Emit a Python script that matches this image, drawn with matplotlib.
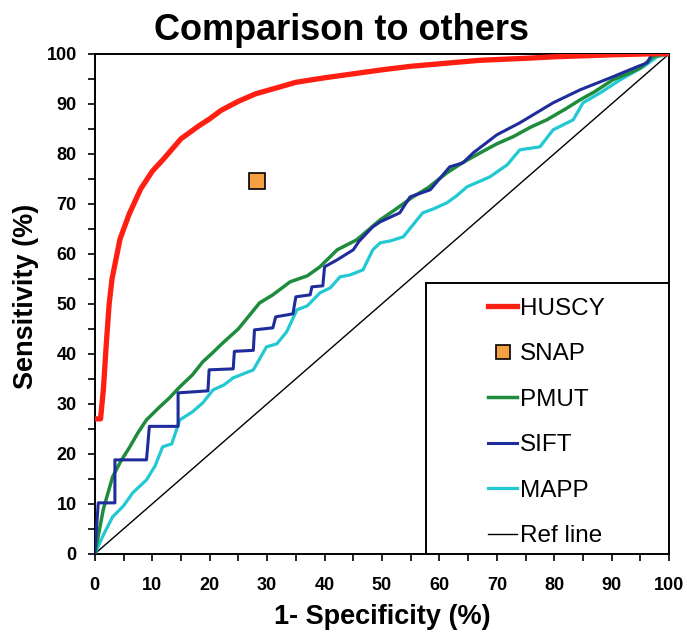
import matplotlib
matplotlib.use("Agg")
import matplotlib.pyplot as plt
from matplotlib.ticker import MultipleLocator
from matplotlib.patches import Rectangle

plt.rcParams['font.family'] = ['Liberation Sans', 'DejaVu Sans']

# HUSCY ROC curve
huscy_x = [0, 1, 1.5, 2, 2.5, 3, 4.4, 6, 8, 10, 12, 15, 18, 20, 22, 25, 28, 32, 35, 40, 45, 50, 55, 60, 67, 75, 80, 90, 97, 100]
huscy_y = [27, 27, 33, 42, 50, 55, 63, 68, 73, 76.5, 79, 83, 85.5, 87, 88.7, 90.5, 92, 93.3, 94.3, 95.2, 96, 96.8, 97.5, 98, 98.7, 99.1, 99.4, 99.8, 100, 100]

# SNAP single point
snap_x = [28.3]
snap_y = [74.5]

# PMUT
pmut_x = [0, 1.5, 3.1, 4.5, 6.1, 7.5, 9, 11.3, 13, 14.8, 17, 18.8, 20.5, 22.3, 25, 28.7, 31, 34, 37, 39.2, 42.2, 45.6, 49.7, 52, 55.4, 58, 61.3, 64, 67.1, 70, 72.8, 76, 78.7, 82, 84.5, 87, 90.2, 93.2, 95, 97.2, 99, 100]
pmut_y = [0, 9, 15.4, 18.5, 21.4, 24.2, 26.8, 29.4, 31.2, 33.4, 35.8, 38.4, 40.2, 42.2, 45, 50.2, 51.8, 54.4, 55.6, 57.4, 60.8, 62.8, 66.8, 68.6, 71.4, 73.2, 76.2, 78.2, 80.2, 82, 83.4, 85.4, 86.8, 89, 90.8, 92.4, 94.8, 96.2, 97.2, 99.4, 100, 100]

# SIFT
sift_x = [0, 0.6, 3.5, 3.5, 9, 9.5, 14.5, 14.5, 19.7, 19.9, 24.1, 24.3, 27.6, 27.8, 31, 31.5, 34.5, 35, 37.5, 37.8, 39.7, 40, 42.2, 45, 46, 48.4, 49.7, 53.1, 54.9, 58.4, 61.8, 64.1, 65.9, 70, 74, 79.8, 84.5, 90.2, 94.4, 96.2, 97, 100]
sift_y = [0, 10.2, 10.2, 18.8, 18.8, 25.5, 25.5, 32.2, 32.6, 36.8, 37, 40.5, 40.7, 44.8, 45.2, 47.4, 48, 51.4, 51.8, 53.4, 53.6, 57.4, 58.8, 60.8, 62.5, 65.4, 66.4, 68.2, 71.4, 72.8, 77.4, 78.2, 80.2, 83.8, 86.2, 90.2, 92.8, 95.4, 97.4, 98.2, 100, 100]

# MAPP
mapp_x = [0, 1.5, 3.1, 5, 6.6, 9, 10.5, 11.8, 13.4, 14.8, 17, 18.8, 20.6, 22.5, 24.1, 27.6, 29.9, 31.7, 33.4, 35.2, 37, 39.2, 41, 42.7, 44.5, 46.7, 48.4, 49.7, 51.5, 53.7, 57.1, 59, 61.3, 63, 64.8, 68.8, 71.8, 74, 77.5, 79.8, 83.3, 85, 88, 91.5, 95.5, 97.9, 100]
mapp_y = [0, 3.8, 7.4, 9.6, 12.2, 14.8, 17.6, 21.4, 22, 26.8, 28.4, 30.2, 32.8, 33.8, 35.2, 36.8, 41.4, 42, 44.4, 48.8, 49.6, 52.2, 53.2, 55.4, 55.8, 56.8, 60.8, 62.2, 62.6, 63.4, 68.2, 69, 70.2, 71.6, 73.4, 75.4, 77.8, 80.8, 81.4, 84.8, 86.8, 90.2, 92.2, 94.8, 97.4, 99.4, 100]

ref_x = [0, 100]
ref_y = [0, 100]

fig = plt.figure(figsize=(6.87, 6.33), dpi=100)
ax = fig.add_axes([0.138, 0.125, 0.836, 0.79])

ax.plot(ref_x, ref_y, color='black', lw=1.0, label='Ref line', zorder=2)
ax.plot(mapp_x, mapp_y, color='#22C8D2', lw=2.3, label='MAPP', zorder=3)
ax.plot(pmut_x, pmut_y, color='#1E8C3C', lw=2.5, label='PMUT', zorder=4)
ax.plot(sift_x, sift_y, color='#1F2C9C', lw=2.2, label='SIFT', zorder=5)
ax.plot(huscy_x, huscy_y, color='#FF1E12', lw=3.8, label='HUSCY', zorder=6)
ax.plot(snap_x, snap_y, linestyle='none', marker='s', markersize=11,
        markerfacecolor='#F5A043', markeredgecolor='black', markeredgewidth=1.2,
        label='SNAP', zorder=7)

ax.set_xlim(0, 100)
ax.set_ylim(0, 100)
ax.xaxis.set_major_locator(MultipleLocator(10))
ax.xaxis.set_minor_locator(MultipleLocator(5))
ax.yaxis.set_major_locator(MultipleLocator(10))
ax.yaxis.set_minor_locator(MultipleLocator(5))
ax.tick_params(which='both', direction='out', length=5, width=1.2, top=False, right=False)
ax.tick_params(axis='x', which='major', pad=12)
ax.tick_params(axis='y', which='major', pad=8)
for lab in ax.get_xticklabels() + ax.get_yticklabels():
    lab.set_fontweight('bold')
    lab.set_fontsize(13)
for s in ax.spines.values():
    s.set_linewidth(1.4)

fig.text(0.497, 1 - 40 / 633, 'Comparison to others', fontsize=26, fontweight='bold',
         ha='center', va='baseline')
ax.set_xlabel('1- Specificity (%)', fontsize=19.5, fontweight='bold', labelpad=7)
ax.set_ylabel('Sensitivity (%)', fontsize=19.5, fontweight='bold', labelpad=6)
ax.yaxis.set_label_coords(-0.097, 0.515)

# Legend frame
rect = Rectangle((0.577, 0.0), 0.423, 0.542, transform=ax.transAxes,
                 facecolor='white', edgecolor='black', lw=1.4, zorder=8)
ax.add_patch(rect)

handles, labels = ax.get_legend_handles_labels()
order = ['HUSCY', 'SNAP', 'PMUT', 'SIFT', 'MAPP', 'Ref line']
hmap = dict(zip(labels, handles))
leg = ax.legend([hmap[k] for k in order], order, loc='upper left',
                bbox_to_anchor=(0.6847, 0.512), frameon=False, fontsize=17.5,
                handlelength=1.2, handletextpad=0.1, labelspacing=0.965,
                borderpad=0, borderaxespad=0, markerscale=0.95)
leg.set_zorder(9)

fig.savefig('out.png', dpi=100)
